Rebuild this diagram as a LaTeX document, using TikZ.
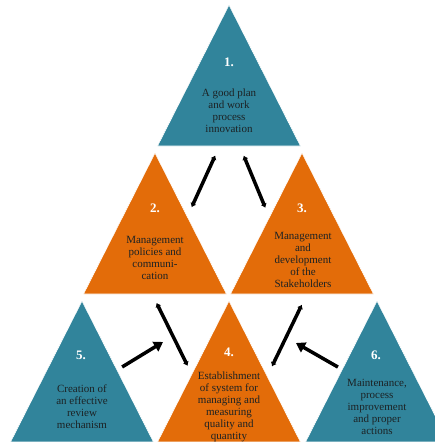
\documentclass[tikz,border=0pt]{standalone}
\usepackage{fontspec}
\setmainfont{Liberation Serif}
\usetikzlibrary{shapes.geometric, arrows.meta, calc}
\definecolor{stepteal}{HTML}{31849B}
\definecolor{steporange}{HTML}{E36C09}
\definecolor{steptext}{HTML}{1C2224}
\tikzset{
x=1pt, y=-1pt, % one unit is one pixel of the layout, y runs downwards
tri/.style={isosceles triangle, isosceles triangle stretches, shape border rotate=90,
  minimum width=143pt, minimum height=141pt, inner sep=0pt, outer sep=0pt,
  anchor=apex, draw=white, line width=0.6pt}, % sets the shape of each triangle
num/.style={text=white, font=\bfseries\fontsize{13}{14}\selectfont}, % the number of each step
desc/.style={text=steptext, align=center, inner sep=0pt,
  font=\fontsize{11}{12}\selectfont}, % the text below the number
link/.style={{Latex[length=4pt,width=6.5pt]}-{Latex[length=4pt,width=6.5pt]}, line width=3.5pt,
  shorten <=10.5pt, shorten >=10.5pt}, % two-way links
push/.style={-{Triangle[length=9pt,width=11pt]}, line width=3.5pt}, % one-way links
}

\begin{document}
\begin{tikzpicture}

\useasboundingbox (0,0) rectangle (435,442);
\clip (0,0) rectangle (435,442);

\node[tri, fill=stepteal] at (229,5) (t1) {};
\node[tri, fill=steporange] at (155,153) (t2) {};
\node[tri, fill=steporange] at (302,153) (t3) {};
\node[tri, fill=steporange] at (229,301) (t4) {};
\node[tri, fill=stepteal] at (82,301) (t5) {};
\node[tri, fill=stepteal] at (377,301) (t6) {};

\node[num] at (229,62) (n1) {1.};
\node[num] at (155,208) (n2) {2.};
\node[num] at (302,208) (n3) {3.};
\node[num] at (229,352) (n4) {4.};
\node[num] at (81,355) (n5) {5.};
\node[num] at (376,355) (n6) {6.};

\node[desc] at (229,111) (d1) {A good plan\\and work\\process\\innovation};
\node[desc] at (155,258) (d2) {Management\\policies and\\communi-\\cation};
\node[desc] at (303,260) (d3) {Management\\and\\development\\of the\\Stakeholders};
\node[desc] at (229,407) (d4) {Establishment\\of system for\\managing and\\measuring\\quality and\\quantity};
\node[desc] at (82,407) (d5) {Creation of\\an effective\\review\\mechanism};
\node[desc] at (377,407) (d6) {Maintenance,\\process\\improvement\\and proper\\actions};

\coordinate (tip5) at (163,342);
\coordinate (tip6) at (296,343);

\draw[link] ($(t1.left corner)!0.434!(t1.right corner)$) -- ($(t2.apex)!0.452!(t2.right corner)$);
\draw[link] ($(t1.left corner)!0.575!(t1.right corner)$) -- ($(t3.apex)!0.457!(t3.left corner)$);
\draw[link, shorten <=10pt, shorten >=9.5pt] ($(t2.left corner)!0.48!(t2.right corner)$) -- ($(t4.apex)!0.52!(t4.left corner)$);
\draw[link, shorten <=12pt, shorten >=11pt] ($(t3.left corner)!0.535!(t3.right corner)$) -- ($(t4.apex)!0.534!(t4.right corner)$);
\draw[push, shorten <=6pt] ($(t5.apex)!0.49!(t5.right corner)$) -- (tip5);
\draw[push, shorten <=5pt] ($(t6.apex)!0.486!(t6.left corner)$) -- (tip6);

\end{tikzpicture}
\end{document}
